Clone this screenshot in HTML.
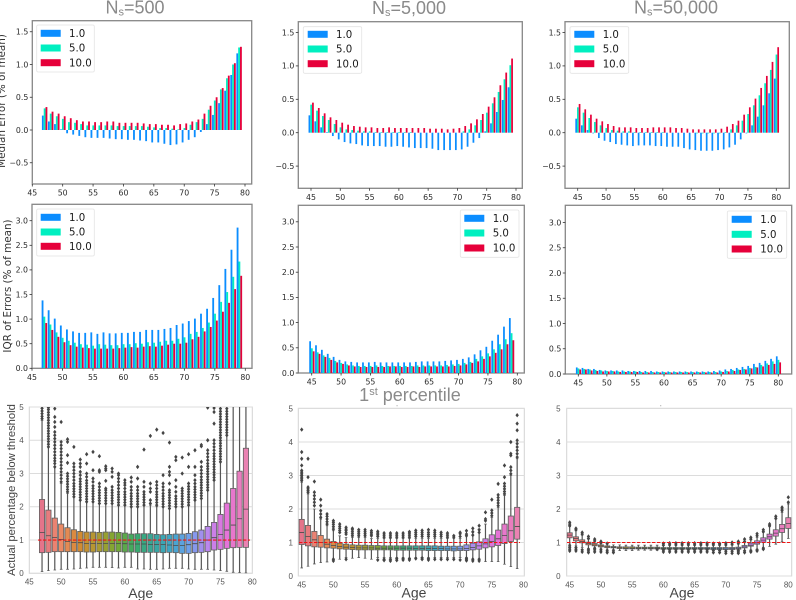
<!DOCTYPE html>
<html>
<head>
<meta charset="utf-8">
<title>Error charts by age</title>
<style>
html,body{margin:0;padding:0;background:#fff;width:796px;height:600px;overflow:hidden}
svg{display:block;filter:blur(0.35px)}
.title{font-family:"Liberation Sans",sans-serif;font-size:18px;fill:#8a8a8a;text-anchor:middle}
.dj{font-family:"DejaVu Sans",sans-serif}
.ls{font-family:"Liberation Sans",sans-serif}
</style>
</head>
<body>
<svg id="chart" xmlns="http://www.w3.org/2000/svg" width="796" height="600" viewBox="0 0 796 600">
<rect x="0" y="0" width="796" height="600" fill="#fff"/>
<text class="title" x="135" y="13.5">N<tspan font-size="11" dy="2">s</tspan><tspan dy="-2">=500</tspan></text>
<text class="title" x="409" y="14">N<tspan font-size="11" dy="2">s</tspan><tspan dy="-2">=5,000</tspan></text>
<text class="title" x="676" y="13.5">N<tspan font-size="11" dy="2">s</tspan><tspan dy="-2">=50,000</tspan></text>
<text class="title" x="410" y="401">1<tspan font-size="11" dy="-6">st</tspan><tspan dy="6"> percentile</tspan></text>
<text class="dj" transform="translate(5,101) rotate(-90)" text-anchor="middle" font-size="10.4" fill="#333">Median Error (% of mean)</text>
<text class="dj" transform="translate(11,286) rotate(-90)" text-anchor="middle" font-size="10.4" fill="#333">IQR of Errors (% of mean)</text>
<text class="ls" transform="translate(15,490) rotate(-90)" text-anchor="middle" font-size="11.2" fill="#444">Actual percentage below threshold</text>
<text class="ls" x="140.7" y="598" text-anchor="middle" font-size="14" fill="#444">Age</text>
<text class="ls" x="414" y="597.7" text-anchor="middle" font-size="14" fill="#444">Age</text>
<text class="ls" x="682" y="597.7" text-anchor="middle" font-size="14" fill="#444">Age</text>
<rect x="396.6" y="405.3" width="0.9" height="0.9" fill="#888"/>
<rect x="660.3" y="405.3" width="0.9" height="0.9" fill="#888"/>
</svg>
<script>
// ---- categories and ticks ----
const ages47to79 = [47,48,49,50,51,52,53,54,55,56,57,58,59,60,61,62,63,64,65,66,67,68,69,70,71,72,73,74,75,76,77,78,79];
const ages45to79 = [45,46,47,48,49,50,51,52,53,54,55,56,57,58,59,60,61,62,63,64,65,66,67,68,69,70,71,72,73,74,75,76,77,78,79];
const ages45to80 = [45,46,47,48,49,50,51,52,53,54,55,56,57,58,59,60,61,62,63,64,65,66,67,68,69,70,71,72,73,74,75,76,77,78,79,80];
const xTickValues = [45,50,55,60,65,70,75,80];
const medianTickValues = [-0.5,0,0.5,1,1.5];
const medianTickLabels = ["\u22120.5","0.0","0.5","1.0","1.5"];
const iqrTickValues = [0,0.5,1,1.5,2,2.5,3];
const iqrTickLabels = ["0.0","0.5","1.0","1.5","2.0","2.5","3.0"];
const boxTickValues = [0,1,2,3,4,5];
const legendLabels = ["1.0","5.0","10.0"];

// ---- median error, Ns=500 ----
const median500Blue = [.22,.13,.09,.01,-.05,-.07,-.09,-.11,-.12,-.12,-.12,-.13,-.14,-.14,-.15,-.15,-.16,-.17,-.19,-.19,-.21,-.23,-.22,-.19,-.15,-.11,-.03,.09,.23,.41,.60,.84,1.17];
const median500Green = [.33,.25,.21,.17,.12,.11,.09,.07,.07,.07,.07,.07,.06,.06,.06,.06,.06,.05,.04,.03,.03,.02,.01,.03,.08,.12,.17,.31,.45,.62,.79,1.00,1.26];
const median500Red = [.35,.28,.25,.21,.18,.15,.13,.13,.12,.12,.13,.13,.11,.11,.11,.11,.10,.09,.09,.08,.08,.07,.09,.10,.13,.16,.25,.37,.50,.64,.83,1.02,1.27];
// ---- median error, Ns=5,000 ----
const median5kBlue = [.26,.17,.08,.01,-.05,-.10,-.14,-.16,-.17,-.19,-.20,-.20,-.20,-.21,-.21,-.20,-.21,-.22,-.23,-.23,-.23,-.24,-.26,-.26,-.26,-.26,-.25,-.21,-.15,-.08,.02,.14,.31,.49,.68];
const median5kGreen = [.42,.33,.25,.19,.13,.08,.05,.04,.03,.02,.02,.01,.01,.01,.01,.01,.01,.01,.00,.00,.00,.00,.00,.00,.00,.00,.02,.05,.11,.19,.30,.44,.61,.80,1.01];
const median5kRed = [.45,.37,.29,.23,.19,.15,.12,.10,.09,.08,.08,.07,.07,.08,.07,.07,.07,.07,.07,.07,.06,.06,.06,.05,.06,.07,.10,.14,.20,.28,.39,.53,.71,.90,1.11];
// ---- median error, Ns=50,000 ----
const median50kBlue = [.21,.11,.04,-.01,-.08,-.12,-.14,-.17,-.18,-.19,-.20,-.19,-.19,-.19,-.20,-.20,-.21,-.21,-.21,-.23,-.25,-.26,-.27,-.27,-.27,-.26,-.25,-.22,-.18,-.10,-.01,.11,.24,.41,.59,.81];
const median50kGreen = [.38,.30,.22,.16,.11,.07,.04,.03,.02,.02,.01,.01,.01,.01,.01,.01,.00,.00,.00,.00,.00,-.01,-.01,-.01,-.01,-.01,.01,.05,.11,.18,.28,.41,.56,.74,.94,1.17];
const median50kRed = [.43,.35,.27,.21,.17,.13,.10,.08,.08,.08,.07,.07,.07,.08,.08,.08,.08,.07,.07,.06,.05,.05,.05,.05,.05,.06,.09,.13,.18,.27,.38,.51,.67,.85,1.06,1.28];
// ---- IQR, Ns=500 ----
const iqr500Blue = [1.38,1.18,1.01,.87,.79,.75,.72,.72,.73,.70,.73,.71,.71,.72,.72,.74,.74,.78,.78,.78,.80,.82,.88,.91,.96,1.01,1.11,1.21,1.43,1.69,2.02,2.41,2.86];
const iqr500Green = [1.05,.89,.73,.62,.56,.52,.49,.48,.46,.49,.48,.47,.47,.49,.49,.51,.50,.53,.52,.54,.56,.56,.60,.63,.70,.74,.82,.93,1.11,1.35,1.55,1.86,2.17];
const iqr500Red = [.92,.78,.64,.53,.47,.44,.42,.41,.40,.40,.40,.40,.41,.42,.43,.42,.44,.45,.44,.46,.48,.50,.50,.52,.59,.64,.75,.84,.97,1.15,1.33,1.61,1.88];
// ---- IQR, Ns=5,000 ----
const iqr5kBlue = [.63,.55,.46,.38,.32,.26,.23,.22,.21,.21,.21,.22,.21,.21,.21,.21,.21,.21,.22,.23,.23,.23,.23,.24,.25,.26,.28,.31,.37,.45,.52,.64,.76,.92,1.09];
const iqr5kGreen = [.49,.41,.35,.30,.24,.20,.17,.15,.14,.14,.14,.15,.14,.14,.14,.14,.14,.14,.15,.15,.15,.15,.15,.16,.17,.18,.20,.22,.28,.33,.39,.47,.57,.67,.79];
const iqr5kRed = [.43,.38,.32,.26,.21,.18,.15,.13,.12,.12,.12,.12,.12,.13,.13,.12,.12,.13,.12,.13,.13,.13,.13,.13,.14,.15,.17,.20,.23,.28,.33,.40,.47,.57,.65];
// ---- IQR, Ns=50,000 ----
const iqr50kBlue = [.13,.12,.10,.10,.08,.07,.07,.07,.07,.06,.06,.06,.06,.06,.05,.05,.05,.05,.05,.05,.05,.05,.05,.05,.06,.07,.09,.10,.12,.14,.16,.20,.22,.26,.30,.35];
const iqr50kGreen = [.11,.10,.09,.08,.07,.06,.06,.05,.05,.05,.05,.04,.04,.04,.04,.04,.04,.04,.04,.04,.04,.04,.04,.04,.04,.05,.06,.08,.09,.10,.12,.14,.18,.21,.25,.28];
const iqr50kRed = [.09,.09,.07,.06,.05,.05,.05,.04,.04,.04,.04,.03,.03,.03,.03,.03,.03,.03,.03,.03,.03,.03,.03,.03,.03,.04,.05,.06,.08,.09,.11,.13,.15,.18,.20,.23];

// ---- boxplot, Ns=500 ----
const box500Q1 = [.62,.63,.65,.65,.65,.65,.65,.64,.64,.65,.65,.65,.65,.64,.64,.63,.63,.63,.63,.62,.63,.62,.60,.60,.62,.63,.65,.70,.72,.75,.77,.78,.78];
const box500Median = [1.23,1.13,1.08,1.02,.96,.93,.92,.90,.90,.90,.90,.90,.90,.89,.88,.88,.88,.87,.87,.87,.85,.84,.84,.86,.89,.92,1.00,1.07,1.17,1.30,1.45,1.64,1.93];
const box500Q3 = [2.22,1.90,1.66,1.48,1.37,1.31,1.26,1.24,1.24,1.23,1.24,1.24,1.23,1.21,1.18,1.19,1.19,1.19,1.17,1.16,1.17,1.18,1.18,1.20,1.25,1.30,1.41,1.53,1.77,2.11,2.55,3.07,3.76];
const box500Low = [.05,.08,.10,.12,.12,.13,.15,.16,.18,.18,.18,.17,.16,.18,.18,.13,.13,.12,.12,.13,.15,.15,.15,.13,.12,.12,.12,.10,.08,.06,.03,.02,.01];
const box500High = [4.6,3.8,3.2,2.7,2.4,2.3,2.2,2.15,2.15,2.1,2.1,2.1,2.05,2.05,2.0,2.0,2.05,2.05,2.0,2.0,1.95,2.0,2.0,2.05,2.2,2.25,2.5,2.8,3.35,4.15,5.6,6.2,7.0];
const box500Outliers = [
[4.65,4.72,4.8,4.88,4.96],
[3.8,3.88,3.96,4.04,4.12,4.2,4.28,4.36,4.44,4.52,4.6,4.68,4.76,4.84,4.92,4.98],
[3.2,3.3,3.38,3.46,3.55,3.65,3.75,3.85,3.95,4.05,4.15,4.25,4.4,4.55,4.7,4.95],
[2.75,2.85,2.95,3.05,3.15,3.25,3.35,3.45,3.55,3.65,3.75,3.85,3.95,4.55],
[2.45,2.52,2.6,2.68,2.76,2.84,2.92,3.0,3.32,3.55,3.95,4.03],
[2.3,2.38,2.46,2.54,2.62,2.7,2.8,2.9,3.0,3.1,3.2,3.3,3.8],
[2.2,2.28,2.36,2.44,2.52,2.6,2.68,2.76,2.84,2.95,3.05,3.2,3.3,3.42],
[2.15,2.23,2.31,2.39,2.47,2.55,2.63,2.71,2.79,2.9,3.0,3.3,3.58],
[2.15,2.23,2.31,2.39,2.47,2.55,2.63,2.75,2.85,3.1,3.65],
[2.1,2.18,2.26,2.34,2.42,2.5,2.6,2.7,3.05,3.1,3.52],
[2.1,2.18,2.26,2.34,2.42,2.5,2.55,2.78,3.1,3.15,3.22],
[2.1,2.18,2.26,2.34,2.42,2.5,2.6,2.9,3.05,3.15],
[2.05,2.13,2.21,2.29,2.37,2.45,2.55,2.65,2.75,2.85,2.95,3.0],
[2.05,2.13,2.21,2.29,2.37,2.45,2.55,2.65,2.72,2.8],
[2.0,2.08,2.16,2.24,2.32,2.4,2.5,2.6,2.75,2.88],
[2.0,2.08,2.16,2.24,2.32,2.4,2.5,2.6,2.85,3.2],
[2.05,2.13,2.21,2.29,2.37,2.45,2.6,2.75,3.72],
[2.1,2.2,2.45,2.55,2.7,4.13],
[2.05,2.13,2.21,2.29,2.37,2.45,2.55,2.65,2.75,4.32],
[2.0,2.08,2.16,2.24,2.32,2.4,2.5,2.6,2.7,2.95,4.22],
[1.95,2.03,2.11,2.19,2.27,2.35,2.43,2.5,2.7,2.95,3.05,3.2,3.93],
[2.0,2.08,2.16,2.24,2.32,2.45,2.6,2.8,3.4,3.5],
[2.0,2.08,2.16,2.24,2.32,2.4,2.48,2.55,3.0,3.48],
[2.05,2.13,2.21,2.29,2.37,2.45,2.53,2.61,2.7,3.2,3.58],
[2.2,2.28,2.36,2.44,2.52,2.6,2.7,2.8,2.95,3.2,3.7],
[2.25,2.33,2.41,2.49,2.57,2.65,2.73,2.81,2.9,3.0,3.1,3.2,3.35,3.82,3.86],
[2.5,2.58,2.66,2.74,2.82,2.9,2.98,3.06,3.14,3.22,3.3,3.4,3.5,3.6,3.7,4.0,4.98],
[2.8,2.88,2.96,3.04,3.12,3.2,3.28,3.36,3.44,3.52,3.6,3.7,3.8,3.9,4.0,4.5,4.85,4.97],
[3.35,3.43,3.51,3.59,3.67,3.75,3.83,3.91,3.99,4.07,4.15,4.23,4.31,4.39,4.47,4.55,4.63,4.71,4.79,4.87,4.95],
[4.15,4.23,4.31,4.39,4.47,4.55,4.63,4.71,4.79,4.87,4.95],
[],[],[]
];

// ---- boxplot, Ns=5,000 ----
const box5kQ1 = [.94,.90,.87,.86,.84,.83,.81,.80,.79,.78,.78,.78,.78,.78,.78,.77,.77,.77,.77,.77,.76,.76,.76,.76,.75,.76,.76,.78,.80,.84,.87,.91,.97,1.03,1.10];
const box5kMedian = [1.30,1.18,1.08,1.00,.95,.91,.88,.86,.85,.84,.84,.84,.83,.83,.83,.83,.83,.83,.82,.82,.82,.82,.82,.81,.81,.81,.82,.85,.90,.96,1.03,1.11,1.21,1.35,1.48];
const box5kQ3 = [1.69,1.51,1.33,1.21,1.10,1.03,.98,.95,.93,.92,.92,.91,.91,.90,.90,.90,.90,.90,.90,.90,.90,.90,.89,.89,.89,.89,.93,.98,1.02,1.11,1.23,1.37,1.55,1.79,2.05];
const box5kLow = [.24,.29,.36,.40,.42,.50,.50,.55,.53,.55,.53,.50,.55,.55,.55,.55,.55,.53,.55,.55,.55,.55,.55,.55,.55,.55,.55,.50,.50,.43,.43,.43,.35,.28,.22];
const box5kHigh = [2.8,2.45,2.0,1.7,1.5,1.35,1.2,1.15,1.15,1.15,1.15,1.12,1.12,1.12,1.12,1.12,1.12,1.12,1.12,1.12,1.12,1.12,1.12,1.12,1.12,1.12,1.2,1.3,1.4,1.55,1.75,2.05,2.4,3.0,3.5];
const box5kOutliers = [
[2.85,2.9,2.95,3.0,3.05,3.1,3.15,3.3,3.5,3.7,4.37],
[2.5,2.55,2.6,2.65,2.95,3.5],
[2.1,2.2,2.3,2.4,2.5,2.82],
[1.75,1.85,1.95,2.1,2.28],
[1.55,1.62,1.7,1.78,1.85],
[.45,.5,1.4,1.47,1.54,1.6,1.65],
[1.3,1.36,1.42,1.48,1.55],
[.5,1.25,1.3,1.36,1.4,1.45],
[1.2,1.26,1.32,1.38,1.42],
[1.2,1.26,1.32,1.38],
[1.2,1.26,1.32,1.38],
[1.2,1.25,1.3,1.35],
[.48,1.18,1.23,1.28,1.33],
[.47,.5,1.16,1.22,1.28],
[.45,.5,1.16,1.22,1.28],
[.47,.52,1.16,1.22,1.28],
[.48,.52,1.16,1.22,1.28],
[.48,.52,1.16,1.22,1.28,1.32],
[.52,1.18,1.24,1.3,1.36],
[.5,.54,1.18,1.24,1.3,1.36],
[.48,.52,1.18,1.24,1.3,1.38],
[.5,1.18,1.24,1.3,1.36],
[.5,1.18,1.24,1.3],
[.5,1.16,1.22,1.28],
[.5,1.16,1.2],
[.48,1.18,1.26,1.3],
[.46,.5,.53,1.2,1.25,1.35],
[.45,.5,1.22,1.32,1.42],
[.45,.5,1.3,1.38,1.5],
[1.65,1.7,1.9],
[1.8,1.88,1.96,2.28],
[2.1,2.18,2.26,2.34,2.42,2.75],
[2.45,2.52,2.6,2.68,2.76,2.95,3.3],
[3.05,3.15,3.25,3.6,3.65,4.0],
[3.55,3.65,3.75,3.85,3.95,4.05,4.35,4.55,4.8]
];

// ---- boxplot, Ns=50,000 ----
const box50kQ1 = [1.14,1.05,.99,.93,.90,.87,.85,.84,.82,.81,.81,.81,.81,.81,.81,.80,.80,.80,.80,.80,.80,.80,.80,.79,.79,.79,.79,.80,.84,.89,.95,1.01,1.10,1.19,1.30,1.42];
const box50kMedian = [1.22,1.12,1.03,.97,.93,.90,.87,.86,.84,.83,.83,.83,.83,.83,.83,.82,.82,.82,.82,.82,.82,.82,.82,.82,.82,.81,.82,.83,.87,.92,.99,1.07,1.17,1.28,1.41,1.57];
const box50kQ3 = [1.29,1.17,1.08,1.01,.97,.93,.90,.88,.87,.87,.87,.86,.86,.86,.86,.85,.85,.85,.85,.85,.85,.85,.85,.85,.85,.85,.85,.86,.91,.98,1.05,1.14,1.25,1.38,1.54,1.74];
const box50kLow = [.95,.90,.85,.82,.85,.83,.80,.79,.76,.76,.76,.77,.77,.77,.77,.76,.78,.78,.78,.78,.78,.78,.78,.78,.78,.78,.78,.78,.75,.78,.80,.85,.88,.95,1.02,1.12];
const box50kHigh = [1.48,1.35,1.22,1.10,1.03,.97,.95,.93,.93,.92,.92,.92,.92,.92,.92,.92,.92,.92,.92,.92,.92,.92,.92,.92,.92,.92,.92,.95,1.0,1.08,1.15,1.3,1.47,1.7,1.9,2.15];
const box50kOutliers = [
[.75,.8,.85,.9,1.5,1.55,1.6],
[.75,.8,.85,1.38,1.42],
[.72,.78,1.25,1.3],
[.7,.75,.8,1.12,1.18],
[.72,.78,.82,1.05,1.1],
[.72,.78,.99,1.03],
[.7,.75,.97],
[.7,.75],
[],[],[],[],[],[],
[.8],
[.72,.78,.92,.97],
[.72,.78,.93,.98],
[.72,.78,.93,.98],
[.72,.78,.93,.98],
[.72,.78,.93,.98],
[.72,.78,.93,.98],
[.72,.78,.93,.98],
[.72,.78,.93,.98],
[.7,.76,.93,.97],
[.7,.76,.93,.97],
[.68,.74,.93,.98],
[.68,.74,.95,1.0],
[.68,.72,.76,.98,1.03],
[.7,.75,1.03,1.1],
[.72,.75,1.1,1.15],
[.75,.78,1.2,1.26],
[.8,.83,1.33,1.38],
[1.5,1.55],
[1.72,1.78],
[1.95,2.0,2.05],
[2.2,2.35]
];

// ---- styling ----
const barColors = ["#0b8dff","#00efc0","#e6003a"];
const boxStops = ["#e5748a","#ec8a66","#d48a32","#ad9a32","#7aa832","#38aa68","#38a69c","#3ea6ca","#739fee","#c084ee","#e672d8","#ea82b2"];
const svg = document.getElementById("chart");
const NS = "http://www.w3.org/2000/svg";
let clipCount = 0;

function make(tag, attrs, parent) {
  const el = document.createElementNS(NS, tag);
  for (const k in attrs) el.setAttribute(k, attrs[k]);
  (parent || svg).appendChild(el);
  return el;
}
function scales(p) {
  p.sx = function (age) { return p.x45 + (age - 45) * (p.x80 - p.x45) / 35; };
  p.sy = function (v) { return p.y0 - v * p.yUnit; };
  return p;
}
function hexMix(a, b, t) {
  const pa = parseInt(a.slice(1), 16), pb = parseInt(b.slice(1), 16);
  const c = [16, 8, 0].map(function (s) {
    const x = (pa >> s) & 255, y = (pb >> s) & 255;
    return Math.round(x + (y - x) * t);
  });
  return "rgb(" + c.join(",") + ")";
}
function boxColor(i, n) {
  const f = i / (n - 1) * (boxStops.length - 1);
  const k = Math.min(Math.floor(f), boxStops.length - 2);
  return hexMix(boxStops[k], boxStops[k + 1], f - k);
}
function plotGroup(p, name) {
  const id = "clip" + (clipCount++);
  const defs = make("defs", {});
  const cp = make("clipPath", { id: id }, defs);
  make("rect", { x: p.left, y: p.top, width: p.right - p.left, height: p.bottom - p.top }, cp);
  const g = make("g", { "clip-path": "url(#" + id + ")" });
  
  
  return g;
}
function barAxes(p, yVals, yLabels, name) {
  const frame = make("rect", { x: p.left, y: p.top, width: p.right - p.left, height: p.bottom - p.top, fill: "none", stroke: "#868686", "stroke-width": 1.3 });
  
  
  xTickValues.forEach(function (t) {
    const x = p.sx(t);
    const tick = make("line", { x1: x, x2: x, y1: p.bottom, y2: p.bottom + 2.5, stroke: "#333", "stroke-width": 0.8 });
    
    
    const lab = make("text", { x: x, y: p.bottom + 11.7, "text-anchor": "middle", "font-size": 7.8, fill: "#2a2a2a", "class": "dj" });
    lab.textContent = String(t);
    
    
  });
  yVals.forEach(function (v, i) {
    const y = p.sy(v);
    const tick = make("line", { x1: p.left - 2.5, x2: p.left, y1: y, y2: y, stroke: "#333", "stroke-width": 0.8 });
    
    
    const lab = make("text", { x: p.left - 4, y: y + 2.8, "text-anchor": "end", "font-size": 7.8, fill: "#2a2a2a", "class": "dj" });
    lab.textContent = yLabels[i];
    
    
  });
}
function bars(p, ages, blue, green, red, name) {
  const g = plotGroup(p, name + "-bars");
  [blue, green, red].forEach(function (series, s) {
    series.forEach(function (v, i) {
      const x = p.sx(ages[i] + 0.03 + (s - 1) * 0.3 - 0.15);
      const w = p.sx(ages[i] + 0.15) - p.sx(ages[i] - 0.15);
      const y1 = p.sy(Math.max(v, 0)), y2 = p.sy(Math.min(v, 0));
      const r = make("rect", { x: x, y: y1, width: w, height: Math.max(y2 - y1, 0), fill: barColors[s] }, g);
      
      
    });
  });
}
function legend(x, y, w, h, swX, swYs, textX, name) {
  const lg = make("g", {});
  
  
  make("rect", { x: x, y: y, width: w, height: h, rx: 1.5, fill: "#fff", stroke: "#e4e4e4", "stroke-width": 0.8 }, lg);
  legendLabels.forEach(function (label, i) {
    const sw = make("rect", { x: swX, y: swYs[i] - 3.5, width: 20, height: 7, fill: barColors[i] }, lg);
    
    
    const t = make("text", { x: textX, y: swYs[i] + 3.7, "font-size": 10.2, fill: "#1a1a1a", "class": "dj" }, lg);
    t.textContent = label;
    
    
  });
}
function boxAxes(p, name) {
  const frame = make("rect", { x: p.left, y: p.top, width: p.right - p.left, height: p.bottom - p.top, fill: "none", stroke: "#d4d4d4", "stroke-width": 1 });
  
  
  boxTickValues.forEach(function (v) {
    const y = p.sy(v);
    const grid = make("line", { x1: p.left, x2: p.right, y1: y, y2: y, stroke: "#dcdcdc", "stroke-width": 1 });
    
    
    const lab = make("text", { x: p.yLabelX, y: y + 2.8, "text-anchor": "middle", "font-size": 8, fill: "#555", "class": "ls" });
    lab.textContent = String(v);
    
    
  });
  xTickValues.forEach(function (t) {
    const lab = make("text", { x: p.sx(t), y: p.xLabelY, "text-anchor": "middle", "font-size": 8, fill: "#555", "class": "ls" });
    lab.textContent = String(t);
    
    
  });
}
function boxes(p, ages, q1, med, q3, low, high, outliers, name) {
  const g = plotGroup(p, name + "-boxes");
  const edge = "#5f5f5f";
  const unit = (p.x80 - p.x45) / 35;
  ages.forEach(function (age, i) {
    const x = p.sx(age);
    const w = unit * 0.82;
    const wh = make("line", { x1: x, x2: x, y1: p.sy(low[i]), y2: p.sy(high[i]), stroke: "#555", "stroke-width": 1.2 }, g);
    
    
    [low[i], high[i]].forEach(function (c) {
      const cap = make("line", { x1: x - w / 4, x2: x + w / 4, y1: p.sy(c), y2: p.sy(c), stroke: edge, "stroke-width": 0.8 }, g);
      
      
    });
    const bx = make("rect", { x: x - w / 2, y: p.sy(q3[i]), width: w, height: p.sy(q1[i]) - p.sy(q3[i]), fill: boxColor(i, ages.length), stroke: edge, "stroke-width": 0.8 }, g);
    
    
    const m = make("line", { x1: x - w / 2, x2: x + w / 2, y1: p.sy(med[i]), y2: p.sy(med[i]), stroke: "#4a4a4a", "stroke-width": 0.8 }, g);
    
    
    (outliers[i] || []).forEach(function (v) {
      const y = p.sy(v);
      const d = make("polygon", { points: [x - 1.7, y, x, y - 2.2, x + 1.7, y, x, y + 2.2].join(","), fill: "#454545" }, g);
      
      
    });
  });
  const ref = make("line", { x1: p.refLeft, x2: p.refRight, y1: p.sy(1), y2: p.sy(1), stroke: "#f01414", "stroke-width": 1.1, "stroke-dasharray": "3.4 1.6" });
  
  
}

// ---- panels ----
const p11 = scales({ left: 32.3, right: 251.7, top: 20.7, bottom: 184, x45: 32.3, x80: 245, y0: 130, yUnit: 65.5 });
barAxes(p11, medianTickValues, medianTickLabels, "median-500");
bars(p11, ages47to79, median500Blue, median500Green, median500Red, "median-500");
legend(36.7, 25, 57.6, 47, 40.7, [33.3, 48, 62.7], 69, "legend-median-500");

const p12 = scales({ left: 298.3, right: 522.3, top: 21.7, bottom: 188.3, x45: 311, x80: 516, y0: 132.7, yUnit: 66.8 });
barAxes(p12, medianTickValues, medianTickLabels, "median-5000");
bars(p12, ages45to79, median5kBlue, median5kGreen, median5kRed, "median-5000");
legend(303.3, 26.7, 58.4, 46.6, 307.7, [34.3, 49, 63.7], 336, "legend-median-5000");

const p13 = scales({ left: 565, right: 789.3, top: 21.7, bottom: 188.3, x45: 577.7, x80: 776.3, y0: 132.7, yUnit: 66.8 });
barAxes(p13, medianTickValues, medianTickLabels, "median-50000");
bars(p13, ages45to80, median50kBlue, median50kGreen, median50kRed, "median-50000");
legend(570, 26.7, 58.7, 46.6, 574.3, [34.3, 49, 63.7], 602.7, "legend-median-50000");

const p21 = scales({ left: 32, right: 252, top: 204.3, bottom: 368.3, x45: 32, x80: 245.3, y0: 368.3, yUnit: 49.2 });
barAxes(p21, iqrTickValues, iqrTickLabels, "iqr-500");
bars(p21, ages47to79, iqr500Blue, iqr500Green, iqr500Red, "iqr-500");
legend(36.7, 209, 57.6, 47, 40.7, [217.3, 232, 246.3], 69, "legend-iqr-500");

const p22 = scales({ left: 298.3, right: 524.3, top: 205.3, bottom: 373, x45: 311.7, x80: 517.3, y0: 373, yUnit: 50.4 });
barAxes(p22, iqrTickValues, iqrTickLabels, "iqr-5000");
bars(p22, ages45to79, iqr5kBlue, iqr5kGreen, iqr5kRed, "iqr-5000");
legend(460.3, 210, 58.7, 47.3, 464.3, [218.3, 233, 248], 492.7, "legend-iqr-5000");

const p23 = scales({ left: 565.3, right: 791.7, top: 205.3, bottom: 374, x45: 578.3, x80: 778.3, y0: 374, yUnit: 50.5 });
barAxes(p23, iqrTickValues, iqrTickLabels, "iqr-50000");
bars(p23, ages45to80, iqr50kBlue, iqr50kGreen, iqr50kRed, "iqr-50000");
legend(727.3, 211, 59.4, 47.3, 731.7, [219.3, 234.3, 249], 760.3, "legend-iqr-50000");

const p31 = scales({ left: 29.3, right: 252.3, top: 407, bottom: 573.3, x45: 29.3, x80: 252.3, y0: 573.3, yUnit: 33.26, yLabelX: 21.5, xLabelY: 584.5, refLeft: 38, refRight: 250 });
boxAxes(p31, "box-500");
boxes(p31, ages47to79, box500Q1, box500Median, box500Q3, box500Low, box500High, box500Outliers, "box-500");

const p32 = scales({ left: 298.3, right: 524.3, top: 408.3, bottom: 576, x45: 301.7, x80: 523.5, y0: 576, yUnit: 33.5, yLabelX: 290.7, xLabelY: 587.7, refLeft: 299, refRight: 520 });
boxAxes(p32, "box-5000");
boxes(p32, ages45to79, box5kQ1, box5kMedian, box5kQ3, box5kLow, box5kHigh, box5kOutliers, "box-5000");

const p33 = scales({ left: 566.7, right: 791.7, top: 408.3, bottom: 576, x45: 569.7, x80: 788.3, y0: 576, yUnit: 33.5, yLabelX: 558.3, xLabelY: 587.7, refLeft: 567, refRight: 791 });
boxAxes(p33, "box-50000");
boxes(p33, ages45to80, box50kQ1, box50kMedian, box50kQ3, box50kLow, box50kHigh, box50kOutliers, "box-50000");
</script>
</body>
</html>
